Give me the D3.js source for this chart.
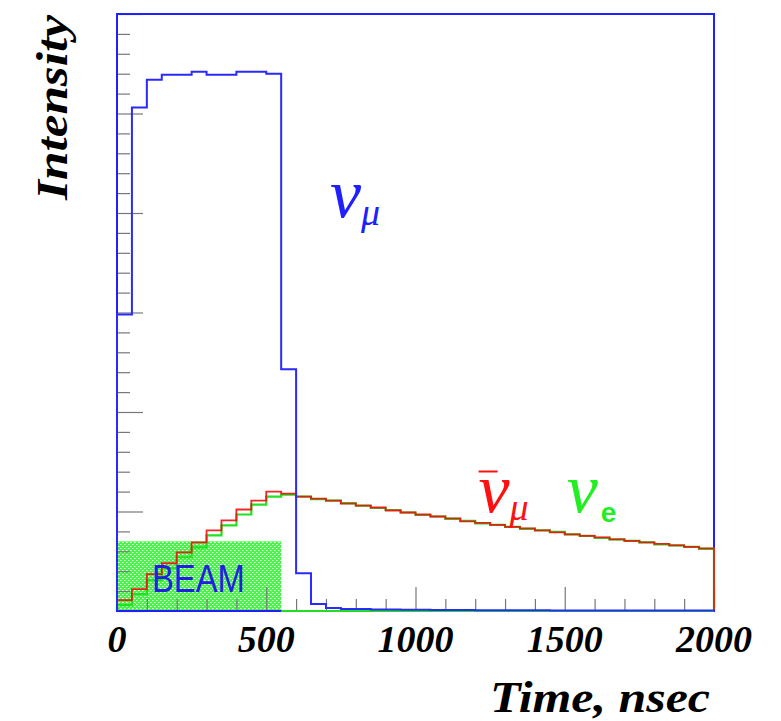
<!DOCTYPE html>
<html>
<head>
<meta charset="utf-8">
<script src="https://cdn.jsdelivr.net/npm/d3@7"></script>
<style>
  html, body { margin: 0; padding: 0; background: #fff; }
  svg { display: block; }
</style>
</head>
<body>
<svg id="chart" width="781" height="721"></svg>
<script>
// ---- data ----
const binWidth = 50;               // ns
const tMin = 0, tMax = 2000;
const yMax = 6;
// nu_mu (blue) per 50 ns bin
const numu = [2.98, 5.06, 5.34, 5.39, 5.39, 5.42, 5.39, 5.39, 5.42, 5.42,
              5.40, 2.43, 0.38, 0.07, 0.03, 0.02, 0.02, 0.015, 0.015, 0.012,
              0.012, 0.01, 0.01, 0.01, 0.008, 0.008, 0.008, 0.007, 0.007, 0.006,
              0.006, 0.006, 0.005, 0.005, 0.005, 0.005, 0.004, 0.004, 0.004, 0.004];
// anti nu_mu (red)
const numubar = [0.11, 0.22, 0.37, 0.48, 0.59, 0.69, 0.81, 0.91, 1.02, 1.11,
                 1.20, 1.18, 1.15, 1.13, 1.11, 1.08, 1.06, 1.04, 1.01, 0.99,
                 0.97, 0.95, 0.93, 0.90, 0.885, 0.865, 0.845, 0.83, 0.81, 0.79,
                 0.77, 0.755, 0.74, 0.72, 0.705, 0.69, 0.675, 0.66, 0.645, 0.63];
// nu_e (green)
const nue = [0.06, 0.17, 0.31, 0.43, 0.54, 0.64, 0.76, 0.86, 0.97, 1.07,
             1.15, 1.17, 1.15, 1.125, 1.11, 1.085, 1.06, 1.035, 1.015, 0.99,
             0.965, 0.95, 0.925, 0.905, 0.88, 0.865, 0.845, 0.825, 0.81, 0.795,
             0.77, 0.755, 0.735, 0.72, 0.705, 0.69, 0.67, 0.66, 0.645, 0.625];
const beamWindow = [0, 550];
const beamHeight = 0.70;
const xTickLabels = [0, 500, 1000, 1500, 2000];

// ---- layout ----
const svg = d3.select("#chart");
const x = d3.scaleLinear().domain([tMin, tMax]).range([117, 714]);
const y = d3.scaleLinear().domain([0, yMax]).range([611, 14]);

// pattern for beam box
const defs = svg.append("defs");
const pat = defs.append("pattern").attr("id", "hatch")
  .attr("patternUnits", "userSpaceOnUse").attr("width", 4).attr("height", 4);
pat.append("rect").attr("width", 4).attr("height", 4).attr("fill", "#48f448");
pat.append("rect").attr("x", 0).attr("y", 0).attr("width", 1).attr("height", 1).attr("fill", "#f0fff0");
pat.append("rect").attr("x", 2).attr("y", 2).attr("width", 1).attr("height", 1).attr("fill", "#f0fff0");
pat.append("rect").attr("x", 1).attr("y", 0).attr("width", 1).attr("height", 1).attr("fill", "#a0faa0");
pat.append("rect").attr("x", 3).attr("y", 2).attr("width", 1).attr("height", 1).attr("fill", "#a0faa0");

// beam box
svg.append("rect")
  .attr("x", x(beamWindow[0]))
  .attr("y", y(beamHeight))
  .attr("width", x(beamWindow[1]) - x(beamWindow[0]))
  .attr("height", y(0) - y(beamHeight))
  .attr("fill", "url(#hatch)");

// ticks
const minorX = d3.range(tMin, tMax + 1, 100).filter(d => d % 500 !== 0);
const majorX = d3.range(tMin, tMax + 1, 500);
const minorY = d3.range(0, yMax * 5 + 1).map(i => i / 5).filter(d => Math.abs(d - Math.round(d)) > 1e-6);
const majorY = d3.range(0, yMax + 1);

function styleAxis(g) {
  g.select(".domain").remove();
  g.selectAll(".tick text").remove();
  g.selectAll(".tick line").attr("stroke", "#777").attr("stroke-width", 1.2);
}
svg.append("g").attr("transform", `translate(0,${y(0)})`)
  .call(d3.axisBottom(x).tickValues(minorX).tickSize(-12)).call(styleAxis);
svg.append("g").attr("transform", `translate(0,${y(0)})`)
  .call(d3.axisBottom(x).tickValues(majorX).tickSize(-24)).call(styleAxis);
svg.append("g").attr("transform", `translate(${x(0)},0)`)
  .call(d3.axisLeft(y).tickValues(minorY).tickSize(-13)).call(styleAxis);
svg.append("g").attr("transform", `translate(${x(0)},0)`)
  .call(d3.axisLeft(y).tickValues(majorY).tickSize(-26)).call(styleAxis);

// frame
svg.append("rect")
  .attr("x", x(tMin)).attr("y", y(yMax))
  .attr("width", x(tMax) - x(tMin)).attr("height", y(0) - y(yMax))
  .attr("fill", "none").attr("stroke", "#2020ff").attr("stroke-width", 2);

// histograms
function histPoints(vals) {
  const pts = [[tMin, 0]];
  vals.forEach((v, i) => pts.push([tMin + i * binWidth, v]));
  pts.push([tMax, vals[vals.length - 1]]);
  pts.push([tMax, 0]);
  return pts;
}
const stepLine = d3.line().x(d => x(d[0])).y(d => y(d[1])).curve(d3.curveStepAfter);

svg.append("path").attr("d", stepLine(histPoints(nue)))
  .attr("fill", "none").attr("stroke", "#22e022").attr("stroke-width", 2.2);
// green baseline after beam window
svg.append("line")
  .attr("x1", x(beamWindow[1])).attr("x2", x(tMax))
  .attr("y1", y(0)).attr("y2", y(0))
  .attr("stroke", "#22dd22").attr("stroke-width", 2);
svg.append("path").attr("d", stepLine(histPoints(numubar)))
  .attr("fill", "none").attr("stroke", "#ee1010").attr("stroke-width", 1.8).attr("stroke-opacity", 0.9);
svg.append("path").attr("d", stepLine(histPoints(numu)))
  .attr("fill", "none").attr("stroke", "#2a2aff").attr("stroke-width", 2);

// BEAM label
svg.append("text")
  .attr("x", x(117)).attr("y", y(0.19))
  .attr("font-family", "Liberation Sans, Arial, sans-serif")
  .attr("font-size", 39)
  .attr("textLength", 93).attr("lengthAdjust", "spacingAndGlyphs")
  .attr("fill", "#2020e0")
  .text("BEAM");

// x tick labels
svg.append("g").selectAll("text").data(xTickLabels).join("text")
  .attr("x", d => x(d)).attr("y", 652)
  .attr("text-anchor", "middle")
  .attr("font-family", "Liberation Serif, Times New Roman, serif")
  .attr("font-weight", "bold").attr("font-style", "italic")
  .attr("font-size", 38)
  .text(d => d);

// axis titles
svg.append("text")
  .attr("x", 710).attr("y", 712)
  .attr("text-anchor", "end")
  .attr("font-family", "Liberation Serif, Times New Roman, serif")
  .attr("font-weight", "bold").attr("font-style", "italic")
  .attr("font-size", 44)
  .attr("textLength", 220).attr("lengthAdjust", "spacingAndGlyphs")
  .text("Time, nsec");

svg.append("text")
  .attr("transform", "translate(67,15) rotate(-90)")
  .attr("text-anchor", "end")
  .attr("font-family", "Liberation Serif, Times New Roman, serif")
  .attr("font-weight", "bold").attr("font-style", "italic")
  .attr("font-size", 44)
  .attr("textLength", 185).attr("lengthAdjust", "spacingAndGlyphs")
  .text("Intensity");

// species labels
function nuLabel(t, v, color, sub, subSans, bar) {
  const g = svg.append("g").attr("transform", `translate(${x(t)},${y(v)})`);
  g.append("text").attr("x", -2).attr("y", 0)
    .attr("font-family", "Liberation Serif, Times New Roman, serif")
    .attr("font-style", "italic").attr("font-size", 70)
    .attr("fill", color).text("ν");
  const s = g.append("text").attr("fill", color).text(sub);
  if (subSans) {
    s.attr("x", 32).attr("y", 10)
     .attr("font-family", "Liberation Sans, Arial, sans-serif")
     .attr("font-weight", "bold").attr("font-size", 28);
  } else {
    s.attr("x", 29).attr("y", 8)
     .attr("font-family", "Liberation Serif, Times New Roman, serif")
     .attr("font-style", "italic").attr("font-size", 38);
  }
  if (bar) {
    g.append("line").attr("x1", -2).attr("x2", 17).attr("y1", -40).attr("y2", -40)
      .attr("stroke", color).attr("stroke-width", 2);
  }
}
nuLabel(720, 3.96, "#2020ff", "μ", false, false);
nuLabel(1218, 1.0, "#ff1010", "μ", false, true);
nuLabel(1513, 1.0, "#22ee22", "e", true, false);
</script>
</body>
</html>
